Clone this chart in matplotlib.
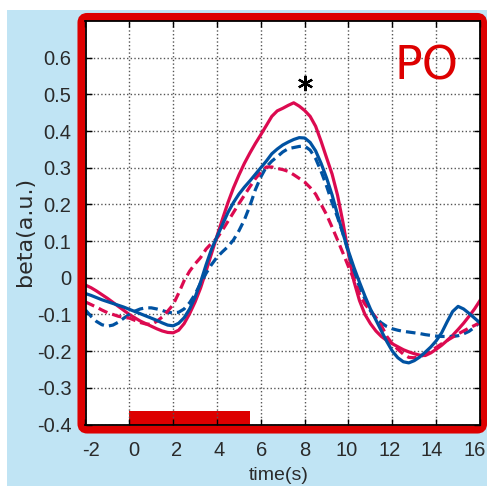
import matplotlib
matplotlib.use('Agg')
import numpy as np
import matplotlib.pyplot as plt
from matplotlib.patches import Rectangle, FancyBboxPatch
from matplotlib.transforms import ScaledTranslation

plt.rcParams['axes.unicode_minus'] = False
LABEL_FONT = ['Liberation Sans', 'DejaVu Sans']

# time axis (s), sampled every 0.25 s, one row per second below
time = np.arange(-2, 16.01, 0.25)

red_solid = [-0.020, -0.027, -0.036, -0.046,
             -0.056, -0.067, -0.078, -0.089,
             -0.100, -0.109, -0.118, -0.125,
             -0.132, -0.139, -0.145, -0.149,
             -0.150, -0.143, -0.125, -0.098,
             -0.066, -0.028, 0.018, 0.066,
             0.114, 0.160, 0.205, 0.245,
             0.280, 0.312, 0.340, 0.366,
             0.390, 0.415, 0.440, 0.455,
             0.462, 0.470, 0.477, 0.468,
             0.456, 0.440, 0.413, 0.372,
             0.327, 0.283, 0.225, 0.150,
             0.065, -0.010, -0.062, -0.100,
             -0.125, -0.145, -0.160, -0.171,
             -0.180, -0.188, -0.196, -0.202,
             -0.207, -0.211, -0.212, -0.205,
             -0.195, -0.184, -0.171, -0.157,
             -0.141, -0.124, -0.105, -0.085,
             -0.062]

blue_solid = [-0.043, -0.048, -0.054, -0.060,
              -0.065, -0.070, -0.075, -0.080,
              -0.086, -0.092, -0.098, -0.104,
              -0.110, -0.116, -0.123, -0.129,
              -0.131, -0.124, -0.109, -0.085,
              -0.053, -0.012, 0.035, 0.078,
              0.112, 0.145, 0.178, 0.205,
              0.228, 0.247, 0.264, 0.282,
              0.300, 0.318, 0.338, 0.351,
              0.362, 0.370, 0.377, 0.382,
              0.381, 0.369, 0.346, 0.312,
              0.272, 0.226, 0.172, 0.120,
              0.072, 0.028, -0.012, -0.050,
              -0.085, -0.115, -0.145, -0.174,
              -0.200, -0.218, -0.229, -0.232,
              -0.226, -0.216, -0.203, -0.189,
              -0.172, -0.150, -0.120, -0.092,
              -0.078, -0.085, -0.097, -0.110,
              -0.123]

red_dashed = [-0.066, -0.073, -0.080, -0.088,
              -0.095, -0.100, -0.105, -0.108,
              -0.110, -0.116, -0.122, -0.126,
              -0.127, -0.119, -0.107, -0.091,
              -0.073, -0.042, -0.008, 0.018,
              0.038, 0.055, 0.078, 0.094,
              0.108, 0.130, 0.154, 0.178,
              0.202, 0.225, 0.248, 0.270,
              0.288, 0.302, 0.302, 0.298,
              0.295, 0.290, 0.281, 0.271,
              0.261, 0.246, 0.228, 0.200,
              0.172, 0.138, 0.103, 0.067,
              0.030, -0.005, -0.045, -0.072,
              -0.090, -0.108, -0.130, -0.160,
              -0.180, -0.195, -0.208, -0.217,
              -0.218, -0.215, -0.210, -0.200,
              -0.190, -0.180, -0.171, -0.162,
              -0.153, -0.145, -0.137, -0.130,
              -0.122]

blue_dashed = [-0.088, -0.105, -0.119, -0.128,
               -0.132, -0.129, -0.121, -0.110,
               -0.100, -0.091, -0.085, -0.082,
               -0.082, -0.085, -0.089, -0.094,
               -0.096, -0.094, -0.085, -0.068,
               -0.045, -0.015, 0.012, 0.036,
               0.056, 0.071, 0.085, 0.103,
               0.128, 0.158, 0.196, 0.240,
               0.275, 0.302, 0.318, 0.330,
               0.343, 0.352, 0.355, 0.358,
               0.359, 0.348, 0.325, 0.290,
               0.250, 0.205, 0.165, 0.120,
               0.068, 0.020, -0.025, -0.058,
               -0.090, -0.110, -0.123, -0.133,
               -0.139, -0.143, -0.146, -0.148,
               -0.150, -0.152, -0.155, -0.157,
               -0.159, -0.160, -0.160, -0.160,
               -0.158, -0.153, -0.146, -0.135,
               -0.120]

stim_on, stim_off = 0, 5.5
sig_time, sig_level = 8, 0.531

RED = '#dc0a50'
BLUE = '#0052a2'
FRAME = '#dd0000'
TXT = '#2a2a2a'

fig = plt.figure(figsize=(4.87, 4.86), dpi=100)
fig.patch.set_facecolor('white')
fig.patches.append(Rectangle((7 / 487, 0), 1, 476 / 486, transform=fig.transFigure,
                             facecolor='#c0e4f4', edgecolor='none', zorder=0))
fig.patches.append(FancyBboxPatch((81.5 / 487, 1 - 429.5 / 486),
                                  (483 - 81.5) / 487, (429.5 - 17) / 486,
                                  boxstyle='round,pad=0,rounding_size=0.012',
                                  transform=fig.transFigure, facecolor='white',
                                  edgecolor=FRAME, linewidth=5.8, zorder=1))

ax = fig.add_axes([85.5 / 487, 1 - 424.5 / 486, 394.5 / 487, 403.5 / 486])
ax.set_zorder(2)

ax.bar(stim_on, 0.038, width=stim_off - stim_on, bottom=-0.4, align='edge',
       color=FRAME, edgecolor='none')

lw = 2.3
ax.plot(time, red_solid, color=RED, lw=lw)
ax.plot(time, blue_dashed, color=BLUE, lw=lw, dashes=(3, 1.6))
ax.plot(time, red_dashed, color=RED, lw=lw, dashes=(3, 1.6))
ax.plot(time, blue_solid, color=BLUE, lw=lw)

ax.plot(sig_time, sig_level, marker=(6, 2, 0), color='black', markersize=11,
        markeredgewidth=1.6)
ax.text(0.865, 0.885, 'PO', transform=ax.transAxes, ha='center', va='center',
        color=FRAME, fontsize=33)

ax.set_xlim(-1.95, 15.95)
ax.set_ylim(-0.4, 0.7)
xticks = list(range(-2, 17, 2))
ax.set_xticks(xticks)
ax.set_yticks([-0.4, -0.3, -0.2, -0.1, 0, 0.1, 0.2, 0.3, 0.4, 0.5, 0.6])
ax.set_yticklabels(['-0.4', '-0.3', '-0.2', '-0.1', '0', '0.1', '0.2', '0.3',
                    '0.4', '0.5', '0.6'])
ax.grid(True, color='#555555', linestyle=':', linewidth=1.0)
ax.tick_params(direction='in', length=4, width=1, top=True, right=True,
               labelcolor=TXT)
ax.tick_params(axis='x', pad=12)
ax.tick_params(axis='y', pad=10)
for lab in ax.get_xticklabels() + ax.get_yticklabels():
    lab.set_family(LABEL_FONT)
    lab.set_fontsize(14.5)

# x labels sit on a slightly tighter spacing than the grid
for t, tick in zip(xticks, ax.xaxis.get_major_ticks()):
    dx = (4.4 - 0.6 * t) / 100
    tick.label1.set_transform(tick.label1.get_transform()
                              + ScaledTranslation(dx, 0, fig.dpi_scale_trans))

for s in ax.spines.values():
    s.set_linewidth(1.3)

ax.set_xlabel('time(s)', fontsize=14, color=TXT, family=LABEL_FONT)
ax.xaxis.set_label_coords(0.49, -0.105)
ax.set_ylabel('beta(a.u.)', fontsize=16, color=TXT)
ax.yaxis.set_label_coords(-0.128, 0.478)

fig.savefig('out.png', dpi=100)
